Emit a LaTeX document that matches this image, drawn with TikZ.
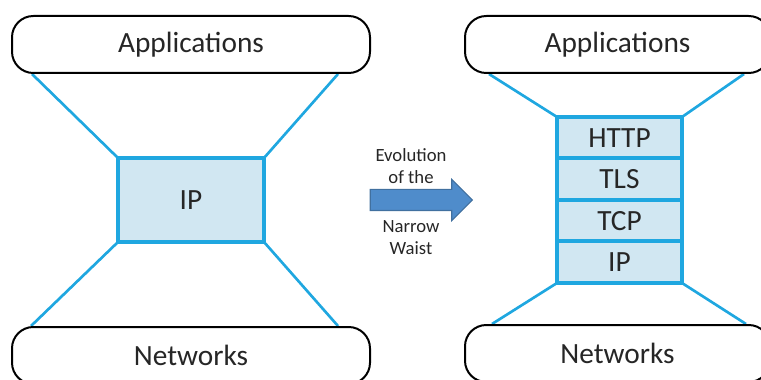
\documentclass[tikz,border=0pt]{standalone}
\usepackage{fontspec}
\setmainfont{Carlito}
\usepackage{tikz}
\usetikzlibrary{positioning,calc,shapes.arrows,backgrounds}
\definecolor{ink}{HTML}{262626}
\definecolor{wire}{HTML}{1FA7E0}
\definecolor{waistbg}{HTML}{D1E7F2}
\definecolor{evofill}{HTML}{4F8CCB}
\definecolor{evodraw}{HTML}{41709F}
\tikzset{
  every node/.style={text=ink},
  pill/.style={draw=black,line width=1.5pt,rounded corners=16pt,fill=white,minimum height=42.75pt,font=\fontsize{22}{26}\selectfont},
  layer/.style={draw=wire,line width=3pt,fill=waistbg,outer sep=0pt,font=\fontsize{22}{26}\selectfont},
  funnel/.style={draw=wire,line width=2pt},
  evoarrow/.style={single arrow,draw=evodraw,fill=evofill,line width=0.8pt,inner xsep=0pt,inner ysep=7.5pt,single arrow head extend=7.5pt,minimum height=76.5pt},
  caption/.style={align=center,font=\fontsize{14}{16}\selectfont}
}

\begin{document}
\begin{tikzpicture}[x=0.75pt,y=0.75pt]
  \useasboundingbox (0,0) rectangle (761,379);
  \clip (0,0) rectangle (761,379);

  % before
  \node[pill,minimum width=268.5pt] (appsL) at (191,334.5) {Applications};
  \node[layer,minimum width=109.5pt,minimum height=63pt,below=63pt of appsL] (ipL) {IP};
  \node[pill,minimum width=268.5pt,below=63pt of ipL] (netsL) {Networks};

  % arrow
  \node[evoarrow] (evo) at (416,179) {};
  \node[caption] (evotop) at (411,213) {Evolution\\of the};
  \node[caption] (evobot) at (411,141.5) {Narrow\\Waist};

  % after
  \node[pill,minimum width=228.75pt] (appsR) at (617.5,334.5) {Applications};
  \node[layer,minimum width=93.75pt,minimum height=31.125pt] (http) at (619.5,241.25) {HTTP};
  \node[layer,minimum width=93.75pt,minimum height=31.125pt,below=0pt of http] (tls) {TLS};
  \node[layer,minimum width=93.75pt,minimum height=31.125pt,below=0pt of tls] (tcp) {TCP};
  \node[layer,minimum width=93.75pt,minimum height=31.125pt,below=0pt of tcp] (ipR) {IP};
  \node[pill,minimum width=228.75pt] (netsR) at (617.5,25.5) {Networks};

  \begin{scope}[on background layer]
    \draw[funnel] ($(appsL.south west)+(21,0)$) -- (ipL.north west);
    \draw[funnel] ($(appsL.south east)+(-33,0)$) -- (ipL.north east);
    \draw[funnel] (ipL.south west) -- ($(netsL.north west)+(20,0)$);
    \draw[funnel] (ipL.south east) -- ($(netsL.north east)+(-33,0)$);
    \draw[funnel] ($(appsR.south west)+(25,0)$) -- (http.north west);
    \draw[funnel] ($(appsR.south east)+(-27,0)$) -- (http.north east);
    \draw[funnel] (ipR.south west) -- ($(netsR.north west)+(28,0)$);
    \draw[funnel] (ipR.south east) -- ($(netsR.north east)+(-25,0)$);
  \end{scope}
\end{tikzpicture}
\end{document}
